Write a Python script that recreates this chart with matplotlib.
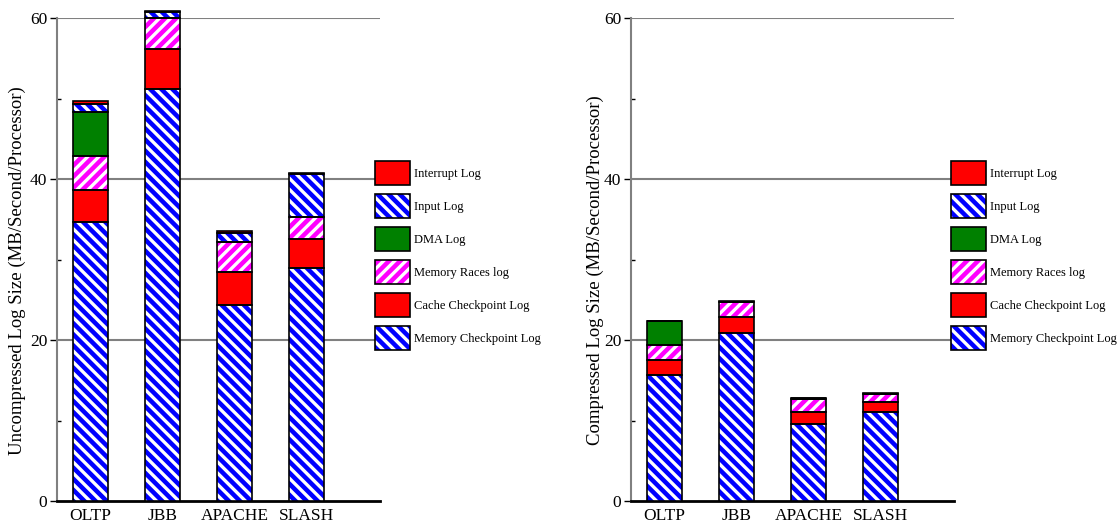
import numpy as np
import matplotlib
matplotlib.use('Agg')
import matplotlib.pyplot as plt
from matplotlib.patches import Patch

plt.rcParams['font.family'] = ['Liberation Serif', 'DejaVu Serif']
plt.rcParams['hatch.linewidth'] = 2.4

# 데이터
benchmarks = ['OLTP', 'JBB', 'APACHE', 'SLASH']
series_names = ['Memory Checkpoint Log', 'Cache Checkpoint Log', 'Memory Races log',
                'DMA Log', 'Input Log', 'Interrupt Log']

uncompressed_mem = [34.6, 51.2, 24.3, 28.9]
uncompressed_cache = [4.0, 4.9, 4.1, 3.6]
uncompressed_races = [4.3, 3.9, 3.8, 2.8]
uncompressed_dma = [5.4, 0.0, 0.0, 0.0]
uncompressed_input = [1.0, 0.7, 1.1, 5.3]
uncompressed_interrupt = [0.4, 0.15, 0.3, 0.2]

compressed_mem = [15.6, 20.9, 9.6, 11.0]
compressed_cache = [1.9, 2.0, 1.5, 1.3]
compressed_races = [1.9, 1.8, 1.6, 1.0]
compressed_dma = [2.9, 0.0, 0.0, 0.0]
compressed_input = [0.0, 0.05, 0.05, 0.05]
compressed_interrupt = [0.05, 0.05, 0.05, 0.05]

# 스타일 (face, hatch color, hatch)
styles = [
    ('#0000ff', 'white', '\\\\\\'),
    ('#ff0000', None, ''),
    ('#ff00ff', 'white', '///'),
    ('#008000', None, ''),
    ('#0000ff', 'white', '\\\\\\'),
    ('#ff0000', None, ''),
]


def draw_panel(ax, data, ylabel, legend_x, label_x):
    x = np.arange(len(benchmarks))
    bottom = np.zeros(len(benchmarks))
    handles = []
    for vals, (face, hcol, hatch), name in zip(data, styles, series_names):
        vals = np.array(vals)
        ax.bar(x, vals, 0.49, bottom=bottom, color=face,
               edgecolor=hcol if hcol else face, hatch=hatch, linewidth=0,
               zorder=3, clip_on=False)
        ax.bar(x, vals, 0.49, bottom=bottom, fill=False,
               edgecolor='black', linewidth=1.2, zorder=4, clip_on=False)
        bottom += vals
        p1 = Patch(facecolor=face, edgecolor=hcol if hcol else face, hatch=hatch, linewidth=0)
        p2 = Patch(fill=False, edgecolor='black', linewidth=1.2)
        handles.append((p1, p2))

    ax.set_xlim(-0.465, 4.02)
    ax.set_ylim(0, 60)
    ax.set_yticks([0, 20, 40, 60])
    ax.set_yticks([10, 30, 50], minor=True)
    ax.set_xticks(x)
    ax.set_xticklabels(benchmarks, fontsize=12.5)
    ax.tick_params(axis='x', length=0, pad=5)
    ax.tick_params(axis='y', which='major', length=5, width=1, labelsize=12.5, pad=2)
    ax.tick_params(axis='y', which='minor', length=3, width=1, direction='in')
    for yv in [20, 40, 60]:
        ax.axhline(yv, color='#808080', linewidth=1.5, zorder=1)
    ax.spines['top'].set_visible(False)
    ax.spines['right'].set_visible(False)
    ax.spines['left'].set_color('#808080')
    ax.spines['left'].set_linewidth(1.5)
    ax.spines['bottom'].set_color('black')
    ax.spines['bottom'].set_linewidth(2)
    ax.set_ylabel(ylabel, fontsize=13.5)
    ax.yaxis.set_label_coords(label_x, 0.478)

    fig.legend(handles[::-1], series_names[::-1], loc='upper left',
               bbox_to_anchor=(legend_x / 1119, 1 - 161 / 529),
               frameon=False, fontsize=9, handlelength=2.8, handleheight=2.58,
               labelspacing=0.72, handletextpad=0.3, borderpad=0, borderaxespad=0)


fig = plt.figure(figsize=(11.19, 5.29), dpi=100)
ax1 = fig.add_axes([57 / 1119, 28 / 529, 323 / 1119, 483 / 529])
ax2 = fig.add_axes([631 / 1119, 28 / 529, 323 / 1119, 483 / 529])

draw_panel(ax1, [uncompressed_mem, uncompressed_cache, uncompressed_races,
                 uncompressed_dma, uncompressed_input, uncompressed_interrupt],
           'Uncompressed Log Size (MB/Second/Processor)', 375, -0.095)
draw_panel(ax2, [compressed_mem, compressed_cache, compressed_races,
                 compressed_dma, compressed_input, compressed_interrupt],
           'Compressed Log Size (MB/Second/Processor)', 951, -0.084)

fig.savefig('out.png', dpi=100)
